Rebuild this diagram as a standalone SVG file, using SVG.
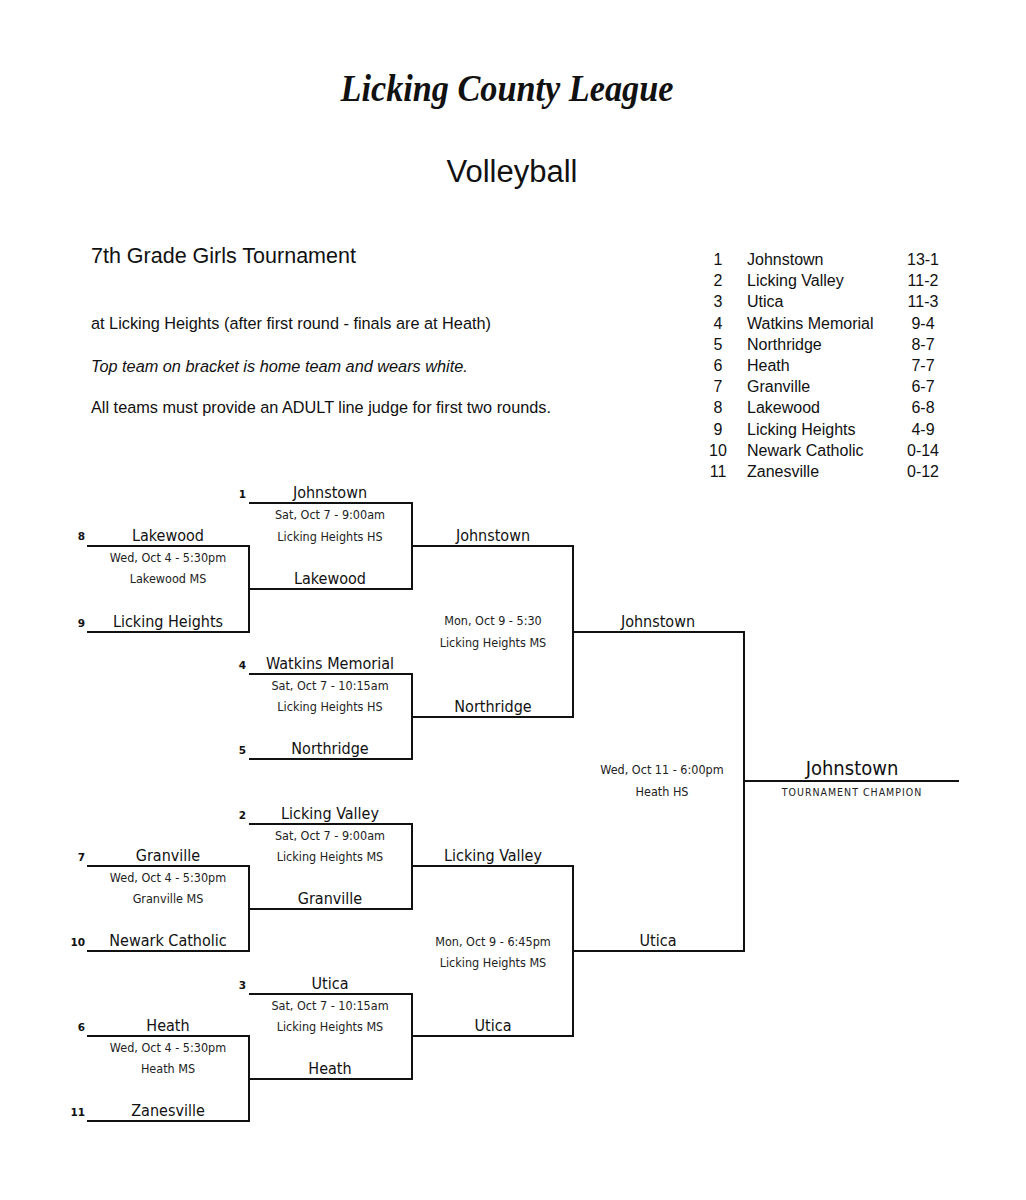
<svg xmlns="http://www.w3.org/2000/svg" width="1026" height="1200" viewBox="0 0 1026 1200">
<style>
.hd{font-family:"Liberation Sans",Arial,sans-serif;fill:#111}
.tm{font-family:"DejaVu Sans Condensed","DejaVu Sans",sans-serif;font-stretch:condensed;font-size:16px;fill:#111;text-anchor:middle}
.sm{font-family:"DejaVu Sans Condensed","DejaVu Sans",sans-serif;font-stretch:condensed;font-size:12.5px;fill:#222;text-anchor:middle}
.sd{font-family:"DejaVu Sans","Liberation Sans",sans-serif;font-weight:bold;font-size:10.5px;fill:#111;text-anchor:end}
.ln{fill:none;stroke:#111;stroke-width:2}
.st{font-family:"Liberation Sans",Arial,sans-serif;font-size:16px;fill:#111}
</style>
<rect width="1026" height="1200" fill="#fff"/>
<g id="header">
<text x="507" y="101" text-anchor="middle" font-family="'Liberation Serif','Times New Roman',serif" font-style="italic" font-weight="bold" font-size="38" fill="#111" textLength="333" lengthAdjust="spacingAndGlyphs">Licking County League</text>
<text class="hd" x="512" y="182" text-anchor="middle" font-size="31">Volleyball</text>
<text class="hd" x="91" y="263" font-size="21.5">7th Grade Girls Tournament</text>
<text class="hd" x="91" y="329" font-size="16.3">at Licking Heights (after first round - finals are at Heath)</text>
<text class="hd" x="91" y="372" font-size="16.3" font-style="italic">Top team on bracket is home team and wears white.</text>
<text class="hd" x="91" y="413" font-size="16.3">All teams must provide an ADULT line judge for first two rounds.</text>
</g>
<g id="standings" class="st">
<text x="718" y="265" text-anchor="middle">1</text><text x="747" y="265">Johnstown</text><text x="923" y="265" text-anchor="middle">13-1</text>
<text x="718" y="286.2" text-anchor="middle">2</text><text x="747" y="286.2">Licking Valley</text><text x="923" y="286.2" text-anchor="middle">11-2</text>
<text x="718" y="307.4" text-anchor="middle">3</text><text x="747" y="307.4">Utica</text><text x="923" y="307.4" text-anchor="middle">11-3</text>
<text x="718" y="328.6" text-anchor="middle">4</text><text x="747" y="328.6">Watkins Memorial</text><text x="923" y="328.6" text-anchor="middle">9-4</text>
<text x="718" y="349.8" text-anchor="middle">5</text><text x="747" y="349.8">Northridge</text><text x="923" y="349.8" text-anchor="middle">8-7</text>
<text x="718" y="371" text-anchor="middle">6</text><text x="747" y="371">Heath</text><text x="923" y="371" text-anchor="middle">7-7</text>
<text x="718" y="392.2" text-anchor="middle">7</text><text x="747" y="392.2">Granville</text><text x="923" y="392.2" text-anchor="middle">6-7</text>
<text x="718" y="413.4" text-anchor="middle">8</text><text x="747" y="413.4">Lakewood</text><text x="923" y="413.4" text-anchor="middle">6-8</text>
<text x="718" y="434.6" text-anchor="middle">9</text><text x="747" y="434.6">Licking Heights</text><text x="923" y="434.6" text-anchor="middle">4-9</text>
<text x="718" y="455.8" text-anchor="middle">10</text><text x="747" y="455.8">Newark Catholic</text><text x="923" y="455.8" text-anchor="middle">0-14</text>
<text x="718" y="477" text-anchor="middle">11</text><text x="747" y="477">Zanesville</text><text x="923" y="477" text-anchor="middle">0-12</text>
</g>
<g id="connectors" class="ln">
<path d="M87 546H249V632H87"/>
<path d="M249 503H412V589H249"/>
<path d="M249 674H412V759H249"/>
<path d="M412 546H573V717H412"/>
<path d="M87 866H249V951H87"/>
<path d="M249 824H412V909H249"/>
<path d="M87 1036H249V1121H87"/>
<path d="M249 994H412V1079H249"/>
<path d="M412 866H573V1036H412"/>
<path d="M573 632H744V951H573"/>
<path d="M744 781H959"/>
</g>
<g id="m-r1-lakewood">
<text class="sd" x="85" y="540">8</text><text class="tm" x="168" y="541">Lakewood</text>
<text class="sm" x="168" y="562">Wed, Oct 4 - 5:30pm</text><text class="sm" x="168" y="583">Lakewood MS</text>
<text class="sd" x="85" y="627">9</text><text class="tm" x="168" y="627">Licking Heights</text>
</g>
<g id="m-r2-johnstown">
<text class="sd" x="246" y="498">1</text><text class="tm" x="330" y="498">Johnstown</text>
<text class="sm" x="330" y="519">Sat, Oct 7 - 9:00am</text><text class="sm" x="330" y="541">Licking Heights HS</text>
<text class="tm" x="330" y="584">Lakewood</text>
</g>
<g id="m-r2-watkins">
<text class="sd" x="246" y="669">4</text><text class="tm" x="330" y="669">Watkins Memorial</text>
<text class="sm" x="330" y="690">Sat, Oct 7 - 10:15am</text><text class="sm" x="330" y="711">Licking Heights HS</text>
<text class="sd" x="246" y="754">5</text><text class="tm" x="330" y="754">Northridge</text>
</g>
<g id="m-r3-top">
<text class="tm" x="493" y="541">Johnstown</text>
<text class="sm" x="493" y="625">Mon, Oct 9 - 5:30</text><text class="sm" x="493" y="647">Licking Heights MS</text>
<text class="tm" x="493" y="712">Northridge</text>
</g>
<g id="m-r1-granville">
<text class="sd" x="85" y="861">7</text><text class="tm" x="168" y="861">Granville</text>
<text class="sm" x="168" y="882">Wed, Oct 4 - 5:30pm</text><text class="sm" x="168" y="903">Granville MS</text>
<text class="sd" x="85" y="946">10</text><text class="tm" x="168" y="946">Newark Catholic</text>
</g>
<g id="m-r2-lickingvalley">
<text class="sd" x="246" y="819">2</text><text class="tm" x="330" y="819">Licking Valley</text>
<text class="sm" x="330" y="840">Sat, Oct 7 - 9:00am</text><text class="sm" x="330" y="861">Licking Heights MS</text>
<text class="tm" x="330" y="904">Granville</text>
</g>
<g id="m-r1-heath">
<text class="sd" x="85" y="1031">6</text><text class="tm" x="168" y="1031">Heath</text>
<text class="sm" x="168" y="1052">Wed, Oct 4 - 5:30pm</text><text class="sm" x="168" y="1073">Heath MS</text>
<text class="sd" x="85" y="1116">11</text><text class="tm" x="168" y="1116">Zanesville</text>
</g>
<g id="m-r2-utica">
<text class="sd" x="246" y="989">3</text><text class="tm" x="330" y="989">Utica</text>
<text class="sm" x="330" y="1010">Sat, Oct 7 - 10:15am</text><text class="sm" x="330" y="1031">Licking Heights MS</text>
<text class="tm" x="330" y="1074">Heath</text>
</g>
<g id="m-r3-bottom">
<text class="tm" x="493" y="861">Licking Valley</text>
<text class="sm" x="493" y="946">Mon, Oct 9 - 6:45pm</text><text class="sm" x="493" y="967">Licking Heights MS</text>
<text class="tm" x="493" y="1031">Utica</text>
</g>
<g id="m-final">
<text class="tm" x="658" y="627">Johnstown</text>
<text class="sm" x="662" y="774">Wed, Oct 11 - 6:00pm</text><text class="sm" x="662" y="796">Heath HS</text>
<text class="tm" x="658" y="946">Utica</text>
</g>
<g id="champion">
<text class="tm" x="852" y="775" style="font-size:20px">Johnstown</text>
<text class="sm" x="852" y="796" style="font-size:10.5px;letter-spacing:1px">TOURNAMENT CHAMPION</text>
</g>
</svg>
